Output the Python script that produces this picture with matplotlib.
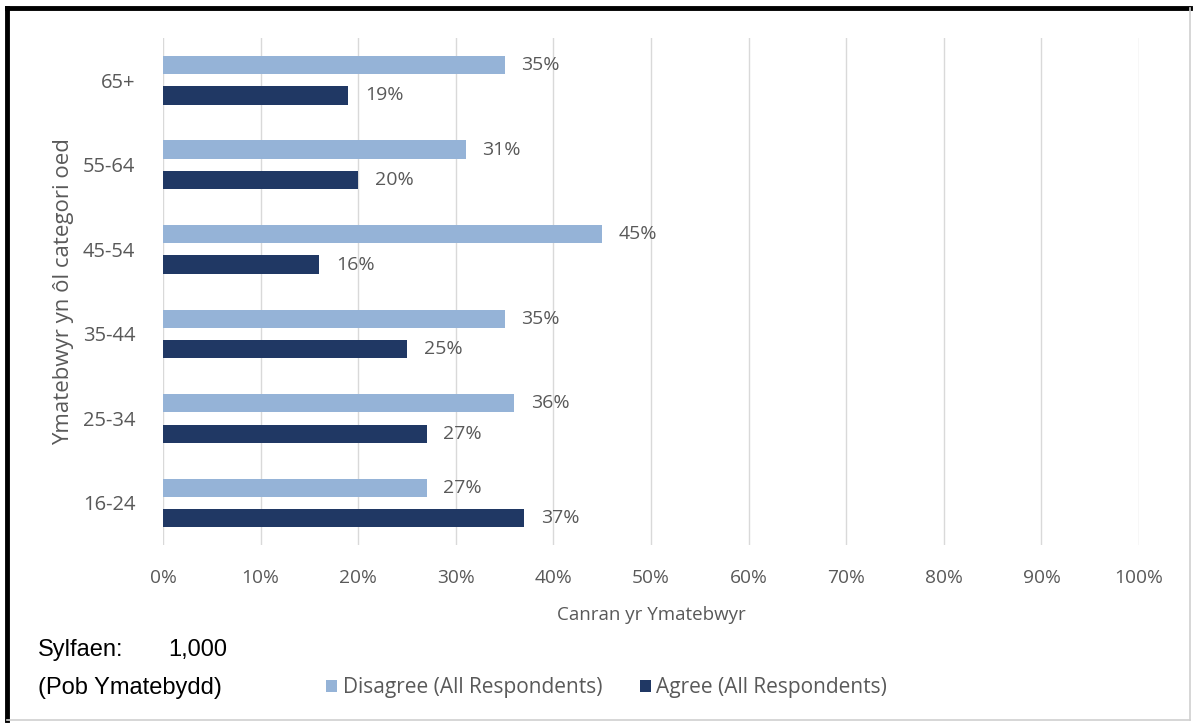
import matplotlib.pyplot as plt
from matplotlib.lines import Line2D
import numpy as np

plt.rcParams['font.family'] = ['Open Sans', 'DejaVu Sans']

categories = ["16-24", "25-34", "35-44", "45-54", "55-64", "65+"]
disagree = [27, 36, 35, 45, 31, 35]
agree = [37, 27, 25, 16, 20, 19]
series_names = ["Disagree (All Respondents)", "Agree (All Respondents)"]
xticks = list(range(0, 101, 10))

light = "#95B3D7"
dark = "#203864"
grey = "#595959"

fig = plt.figure(figsize=(11.94, 7.24), dpi=100)
ax = fig.add_axes([0.1365, 0.247, 0.8175, 0.7005])

y = np.arange(len(categories))
h = 0.215
off = 0.18
b1 = ax.barh(y + off, disagree, height=h, color=light, label=series_names[0], zorder=3)
b2 = ax.barh(y - off, agree, height=h, color=dark, label=series_names[1], zorder=3)

for bars, vals in ((b1, disagree), (b2, agree)):
    for bar, v in zip(bars, vals):
        ax.text(v + 1.7, bar.get_y() + bar.get_height() / 2, f"{v}%",
                va="center", ha="left", fontsize=14, color=grey)

ax.set_xlim(0, 100)
ax.set_ylim(-0.5, len(categories) - 0.5)
ax.set_xticks(xticks)
ax.set_xticklabels([f"{t}%" for t in xticks], fontsize=13.8, color=grey)
ax.set_yticks(y)
ax.set_yticklabels(categories, fontsize=14.5, color=grey)
ax.tick_params(length=0)
ax.tick_params(axis="y", pad=20)
ax.tick_params(axis="x", pad=17)
ax.grid(axis="x", color="#D9D9D9", linewidth=1, zorder=0)
for s in ax.spines.values():
    s.set_visible(False)

ax.set_xlabel("Canran yr Ymatebwyr", fontsize=13.5, color=grey, labelpad=14)
ax.set_ylabel("Ymatebwyr yn ôl categori oed", fontsize=16, color=grey, labelpad=6)

fig.legend(handles=[b1, b2], loc="center", bbox_to_anchor=(0.508, 0.05), ncol=2,
           frameon=False, fontsize=15, labelcolor=grey, handlelength=0.55,
           handleheight=0.55, handletextpad=0.25, columnspacing=1.8)

fig.text(0.032, 0.102, "Sylfaen:", fontsize=17, family="Liberation Sans", va="center")
fig.text(0.141, 0.102, "1,000", fontsize=17, family="Liberation Sans", va="center")
fig.text(0.032, 0.05, "(Pob Ymatebydd)", fontsize=17, family="Liberation Sans", va="center")

# frame around the chart
fig.add_artist(Line2D([0.006, 0.997], [0.989, 0.989], color="black", lw=3.5, transform=fig.transFigure))
fig.add_artist(Line2D([0.006, 0.006], [0.005, 0.989], color="black", lw=3.5, transform=fig.transFigure))
fig.add_artist(Line2D([0.997, 0.997], [0.005, 0.989], color="#D0D0D0", lw=1.2, transform=fig.transFigure))
fig.add_artist(Line2D([0.006, 0.997], [0.005, 0.005], color="#D0D0D0", lw=1.2, transform=fig.transFigure))

fig.savefig("out.png", dpi=100)
